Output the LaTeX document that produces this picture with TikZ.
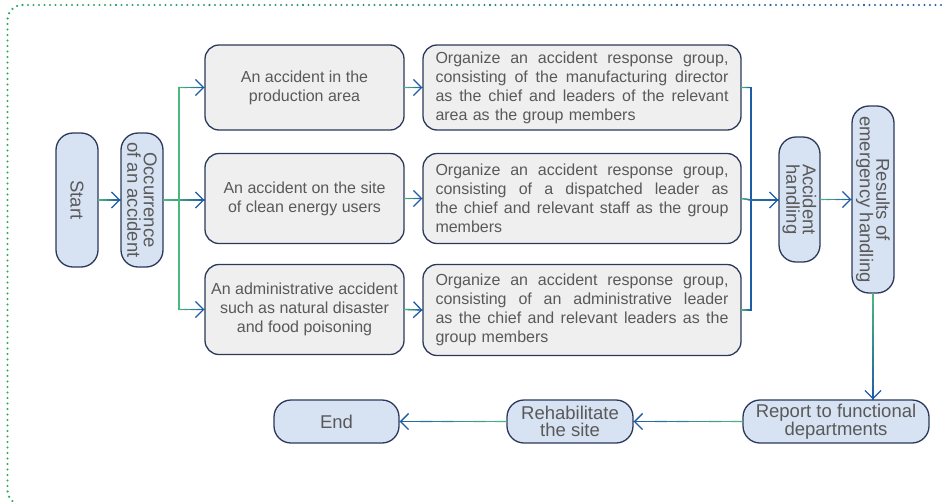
\documentclass[tikz,border=0pt]{standalone}
\usepackage{fontspec}
\setmainfont{Liberation Sans}
\usetikzlibrary{arrows.meta,calc}
\definecolor{lgreen}{HTML}{4DB87C}
\definecolor{lblue}{HTML}{1F5CA8}
\definecolor{bgreen}{HTML}{2FA864}
\definecolor{bblue}{HTML}{2460A8}
\definecolor{boxline}{HTML}{2B3A5A}
\definecolor{greyfill}{HTML}{EFEFEF}
\definecolor{bluefill}{HTML}{D7E2F3}
\definecolor{textc}{HTML}{595959}
\newcommand\gseg[4]{%
  \foreach \k in {0,...,9}{%
    \pgfmathsetmacro\ta{\k/10}%
    \pgfmathsetmacro\tb{(\k+1)/10}%
    \pgfmathsetmacro\pc{#3+(#4-#3)*(\k+0.5)/10}%
    \draw[conn,draw=lgreen!\pc!lblue] ($#1!\ta!#2$) -- ($#1!\tb!#2$);
  }}
\newcommand\garrow[4]{%
  \gseg{#1}{#2}{#3}{#4}%
  \draw[tipst] ($#2!1pt!#1$) -- #2;}
\newcommand\jl[1]{\leavevmode\hbox to 293pt{\spaceskip=0.278em plus 1fil\relax #1}\\}
\tikzset{
  conn/.style={line width=1.3pt,line cap=rect},
  tipst/.style={-{Straight Barb[length=8pt,width=16pt]},line width=1.3pt,draw=lblue},
  greybox/.style={draw=boxline,line width=1.3pt,fill=greyfill,rounded corners=14pt,
    text=textc,font=\fontsize{16}{19}\selectfont,inner sep=0pt},
  pill/.style={draw=boxline,line width=1.3pt,fill=bluefill,rounded corners=17pt,
    text=textc,font=\fontsize{18.5}{16.5}\selectfont,inner sep=0pt,align=center},
  dotline/.style={line width=2.4pt,line cap=round,dash pattern=on 0pt off 5.5pt},
}
\begin{document}
\begin{tikzpicture}[x=1pt,y=-1pt]
\useasboundingbox (0,0) rectangle (942,501);
% dotted frame
\begin{scope}
\clip (0,0) rectangle (942,501);
\draw[dotline,draw=bgreen,rounded corners=15pt] (22.5,5) -- (7.5,5) -- (7.5,505) -- (60,505);
\foreach \k in {0,...,9}{%
  \pgfmathsetmacro\xa{22.5+93.5*\k}%
  \pgfmathsetmacro\xb{\xa+93.5}%
  \pgfmathsetmacro\pc{100-\k*11}%
  \draw[dotline,draw=bgreen!\pc!bblue] (\xa,5) -- (\xb,5);
}
\end{scope}
% nodes
\node[pill,rotate=-90,minimum width=134pt,minimum height=42pt] (start) at (77,200) {Start};
\node[pill,rotate=-90,minimum width=134pt,minimum height=42pt] (occ) at (142,200) {Occurrence\\of an accident};
\node[greybox,minimum width=199pt,minimum height=85pt,align=center] (a1) at (304.5,87.5) {An accident in the\\production area};
\node[greybox,minimum width=199pt,minimum height=90pt,align=center] (a2) at (304.5,198.5) {An accident on the site\\of clean energy users};
\node[greybox,minimum width=199pt,minimum height=90pt,align=center] (a3) at (304.5,309.5) {An administrative accident\\such as natural disaster\\and food poisoning};
\node[greybox,minimum width=318pt,minimum height=85pt,text width=293pt,align=left] (b1) at (582,87.5) {\jl{Organize an accident response group,}\jl{consisting of the manufacturing director}\jl{as the chief and leaders of the relevant}area as the group members};
\node[greybox,minimum width=318pt,minimum height=90pt,text width=293pt,align=left] (b2) at (582,198.5) {\jl{Organize an accident response group,}\jl{consisting of a dispatched leader as}\jl{the chief and relevant staff as the group}members};
\node[greybox,minimum width=318pt,minimum height=91pt,text width=293pt,align=left] (b3) at (582,310) {\jl{Organize an accident response group,}\jl{consisting of an administrative leader}\jl{as the chief and relevant leaders as the}group members};
\node[pill,rotate=-90,minimum width=125pt,minimum height=41pt] (acc) at (799.5,199.5) {Accident\\handling};
\node[pill,rotate=-90,minimum width=187pt,minimum height=42pt] (res) at (873,199.5) {Results of\\emergency handling};
\node[pill,minimum width=186pt,minimum height=43pt] (rep) at (836,421.5) {Report to functional\\departments};
\node[pill,minimum width=126pt,minimum height=43pt] (reh) at (570,421.5) {Rehabilitate\\the site};
\node[pill,minimum width=125pt,minimum height=43pt] (end) at (336.5,421.5) {End};
% coordinates
\coordinate (br) at (179,200);
\coordinate (brt) at (br |- a1.west);
\coordinate (brb) at (br |- a3.west);
\coordinate (a2in) at (a2.west |- br);
\coordinate (mx) at (751,200);
\coordinate (m1) at (b1.east -| mx);
\coordinate (m3) at (b3.east -| mx);
\coordinate (accin) at (acc.south |- mx);
\coordinate (repin) at (res.east |- rep.north);
% connectors
\garrow{(start.north)}{(occ.south)}{100}{0}
\gseg{(occ.north)}{(br)}{100}{75}
\garrow{(br)}{(a2in)}{75}{0}
\gseg{(brt)}{(brb)}{100}{100}
\garrow{(brt)}{(a1.west)}{100}{0}
\garrow{(brb)}{(a3.west)}{100}{0}
\garrow{(a1.east)}{(b1.west)}{100}{0}
\garrow{(a2.east)}{(b2.west)}{100}{0}
\garrow{(a3.east)}{(b3.west)}{100}{0}
\gseg{(b1.east)}{(m1)}{100}{10}
\gseg{(b2.east)}{(mx)}{100}{20}
\gseg{(b3.east)}{(m3)}{100}{10}
\gseg{(m1)}{(m3)}{0}{0}
\garrow{(mx)}{(accin)}{20}{0}
\garrow{(acc.north)}{(res.south)}{100}{0}
\garrow{(res.east)}{(repin)}{100}{0}
\garrow{(rep.west)}{(reh.east)}{100}{0}
\garrow{(reh.west)}{(end.east)}{100}{0}
\end{tikzpicture}
\end{document}
